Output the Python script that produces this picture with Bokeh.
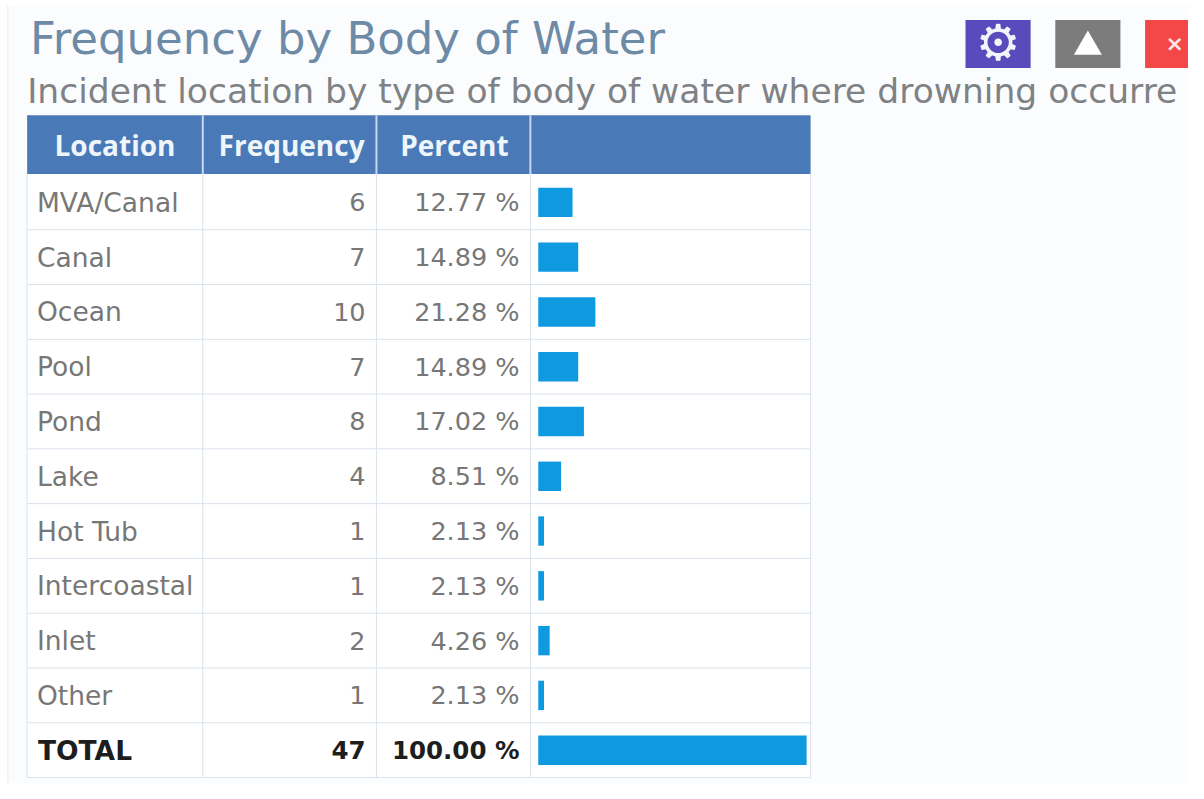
from bokeh.plotting import figure
from bokeh.models import Range1d, ColumnDataSource
from bokeh.core.properties import value
from bokeh.embed import file_html
from bokeh.resources import INLINE

title_text = "Frequency by Body of Water"
subtitle_text = "Incident location by type of body of water where drowning occurre"
headers = ["Location", "Frequency", "Percent"]
locations = ["MVA/Canal", "Canal", "Ocean", "Pool", "Pond", "Lake", "Hot Tub", "Intercoastal", "Inlet", "Other"]
frequency = [6, 7, 10, 7, 8, 4, 1, 1, 2, 1]
percent = [12.77, 14.89, 21.28, 14.89, 17.02, 8.51, 2.13, 2.13, 4.26, 2.13]
total_label = "TOTAL"
total_frequency = 47
total_percent = 100.00

W, H = 1188, 783
RW, RH = 1204, 799       # layout grid the positions below are measured on
BAR0, BARW = 545, 2.72   # grid position of 0 %, grid units per 1 %
ROW0, ROWH = 206, 55.9   # grid position of row 0 centre, grid units per row

p = figure(width=W, height=H, output_backend="svg", toolbar_location=None,
           x_axis_location=None, y_axis_location=None, min_border=0,
           x_range=Range1d((0 - BAR0) / BARW, (RW - BAR0) / BARW),
           y_range=Range1d((RH - ROW0) / ROWH, (0 - ROW0) / ROWH),
           background_fill_color="#ffffff", border_fill_color="#ffffff", outline_line_color=None)
p.grid.visible = False

X = lambda px: (px - BAR0) / BARW
Y = lambda px: (px - ROW0) / ROWH
FONT = value("DejaVu Sans")

def box(l, t, r, b, color, line=None):
    p.quad(left=[X(l)], right=[X(r)], top=[Y(t)], bottom=[Y(b)], fill_color=color, line_color=line)

def txt(px, py, s, size, color, align="left", style="normal", font=FONT):
    p.text(x=[X(px)], y=[Y(py)], text=[s], text_font=font, text_font_size=f"{size}px",
           text_color=color, text_align=align, text_baseline="middle", text_font_style=style)

# panel
box(8, 5, 1204, 799, "#fbfcfe")
p.segment(x0=[X(7.5)], x1=[X(7.5)], y0=[Y(5)], y1=[Y(799)], line_color="#e6e8ec", line_width=1)

# titles
txt(30, 39, title_text, 45, "#6d8ba6")
txt(27, 92, subtitle_text, 34.5, "#7f8285")

# table body and header
box(27, 177, 821, 793, "#ffffff")
box(27, 117, 821, 177, "#4a79b7")
cols = [27, 205, 381, 537, 821]
for c in cols[1:-1]:
    p.segment(x0=[X(c)], x1=[X(c)], y0=[Y(117)], y1=[Y(177)], line_color="#c6d8ee", line_width=2)
for c in cols:
    p.segment(x0=[X(c)], x1=[X(c)], y0=[Y(177)], y1=[Y(793)], line_color="#dbe2ec", line_width=1)
n = len(locations)
for i in range(n + 1):
    yy = i + 0.5
    p.segment(x0=[X(27)], x1=[X(821)], y0=[yy], y1=[yy], line_color="#dbe2ec", line_width=1)

for cx, h in zip([116, 295, 460], headers):
    txt(cx, 147, h, 28, "#eef6fb", align="center", style="bold", font=value("Open Sans"))

rows = list(range(n))
HB = 15 / ROWH
src = ColumnDataSource(dict(row=rows, loc=locations, freq=[str(v) for v in frequency],
                            pct=[f"{v:.2f} %" for v in percent], val=percent,
                            top=[r - HB for r in rows], bot=[r + HB for r in rows]))
p.quad(left=0, right="val", top="top", bottom="bot", source=src, fill_color="#0f9ae0", line_color=None)
p.quad(left=[0], right=[total_percent], top=[n - HB], bottom=[n + HB], fill_color="#0f9ae0", line_color=None)

common = dict(y="row", source=src, text_font=FONT, text_color="#777777", text_baseline="middle")
p.text(x=X(37), text="loc", text_align="left", text_font_size="26.5px", **common)
p.text(x=X(370), text="freq", text_align="right", text_font_size="25.5px", **common)
p.text(x=X(526), text="pct", text_align="right", text_font_size="25.5px", **common)

for px, s, al, fs in [(38, total_label, "left", 26.5), (370, str(total_frequency), "right", 24.5),
                      (526, f"{total_percent:.2f} %", "right", 24.5)]:
    p.text(x=[X(px)], y=[n], text=[s], text_font=FONT, text_font_size=f"{fs}px", text_color="#1d1d1d",
           text_align=al, text_baseline="middle", text_font_style="bold")

# buttons
box(978, 20, 1044, 69, "#5a4bbd")
txt(1011, 43, "\u2699", 50, "#f4f4fb", align="center")
box(1069, 20, 1135, 69, "#7c7c7c")
p.scatter(x=[X(1102)], y=[Y(47)], marker="triangle", size=28, fill_color="#ffffff", line_color=None)
box(1160, 20, 1204, 69, "#f44848")
txt(1190, 44, "\u00d7", 22, "#fbe6e6", align="center", style="bold")

open("out.html", "w").write(file_html(p, INLINE))
